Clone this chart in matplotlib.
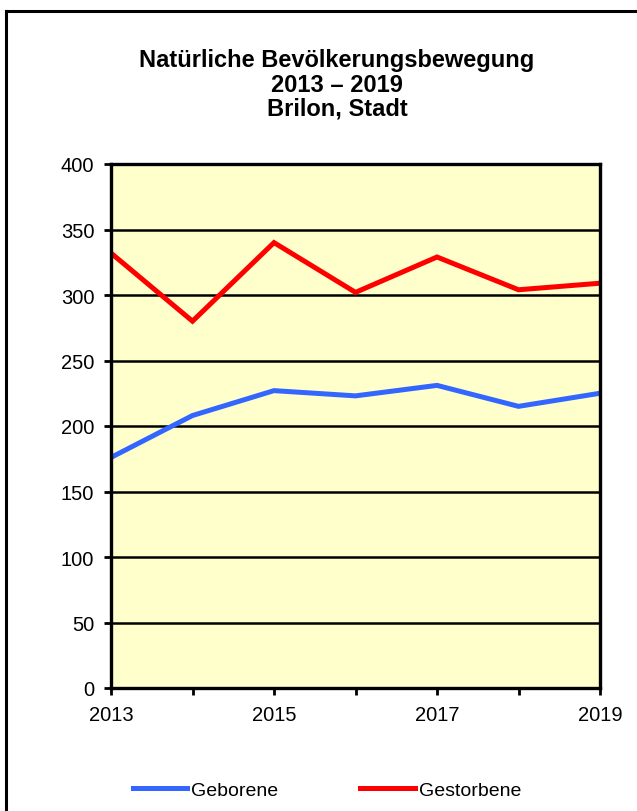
import matplotlib
matplotlib.use('Agg')
import matplotlib.pyplot as plt
from matplotlib.lines import Line2D

plt.rcParams['font.family'] = ['Liberation Sans', 'DejaVu Sans']

# Daten
jahre = [2013, 2014, 2015, 2016, 2017, 2018, 2019]
geborene = [176, 208, 227, 223, 231, 215, 225]
gestorbene = [332, 280, 340, 302, 329, 304, 309]
titel = 'Natürliche Bevölkerungsbewegung\n2013 – 2019\nBrilon, Stadt'

color_blue = '#3366FF'
color_red = '#FF0000'
bg = '#FFFFCC'

fig = plt.figure(figsize=(6.37, 8.12), dpi=100)
ax = fig.add_axes([111/637, 1-689/812, (600-111)/637, (689-165)/812])
ax.set_facecolor(bg)

ax.plot(jahre, geborene, color=color_blue, lw=3.6, label='Geborene', solid_joinstyle='miter')
ax.plot(jahre, gestorbene, color=color_red, lw=3.6, label='Gestorbene', solid_joinstyle='miter')

ax.set_xlim(2013, 2019)
ax.set_ylim(0, 400)
ax.set_yticks(range(0, 401, 50))
ax.set_xticks(jahre)
ax.set_xticklabels([str(j) if j % 2 == 1 else '' for j in jahre])
ax.grid(axis='y', color='black', lw=1.8)
ax.set_axisbelow(True)
for s in ax.spines.values():
    s.set_linewidth(2.4)
    s.set_color('black')
ax.tick_params(axis='both', direction='out', length=5, width=2, labelsize=14.5, colors='black')
ax.tick_params(axis='y', pad=7)
ax.tick_params(axis='x', pad=7)

fig.text(337/637, 1-85/812, titel, ha='center', va='center', fontsize=17,
         fontweight='bold', linespacing=1.06)

fig.legend(loc='center', bbox_to_anchor=(327/637, 1-791/812), ncol=2, frameon=False,
           fontsize=14, handlelength=2.8, handletextpad=0.22, columnspacing=4.2)

# Rahmen
fig.add_artist(Line2D([6/637, 6/637], [0, 1-12/812], transform=fig.transFigure, color='black', lw=2.2))
fig.add_artist(Line2D([6/637, 1], [1-12/812, 1-12/812], transform=fig.transFigure, color='black', lw=2.2))

plt.savefig('out.png', dpi=100)
